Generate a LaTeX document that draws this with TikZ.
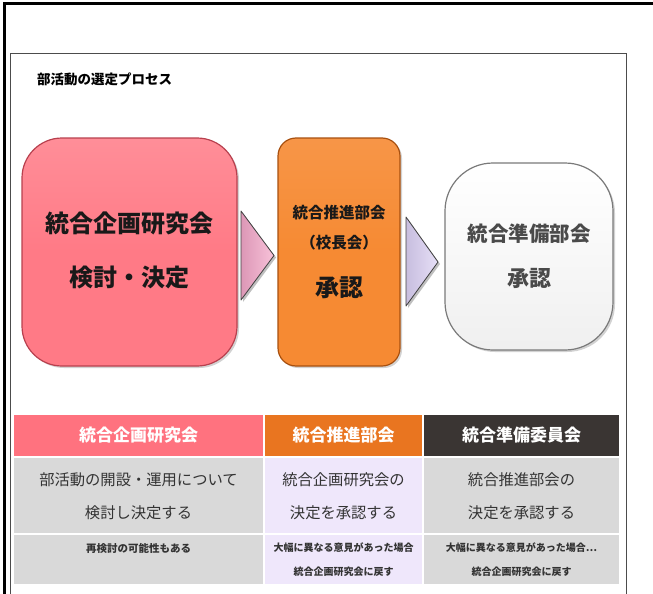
\documentclass[tikz,border=0pt]{standalone}
\usepackage{fontspec}
\setmainfont{Noto Sans CJK JP}
\usetikzlibrary{shadows}
\definecolor{pinkbox}{HTML}{FF7A86}
\definecolor{pinkedge}{HTML}{B8404E}
\definecolor{orangebox}{HTML}{F68A33}
\definecolor{orangeedge}{HTML}{A8500F}
\definecolor{whiteedge}{HTML}{7A7A7A}
\definecolor{hdpink}{HTML}{FF727F}
\definecolor{hdorange}{HTML}{E97520}
\definecolor{hddark}{HTML}{3A3533}
\definecolor{cellgray}{HTML}{D9D9D9}
\definecolor{celllav}{HTML}{EFE7FB}
\definecolor{txtdark}{HTML}{333333}
\definecolor{txtgray}{HTML}{4A4A4A}
\definecolor{arrpink}{HTML}{F5A8CA}
\definecolor{arrlav}{HTML}{D9CEF2}
\tikzset{
  procbox/.style={draw, line width=1.2pt, inner sep=0pt, outer sep=0pt,
    drop shadow={shadow xshift=2pt, shadow yshift=-2pt, fill=black!35}},
  cell/.style={draw=white, line width=1.5pt, inner sep=0pt, outer sep=0pt, anchor=north west},
  tri/.style={draw=black!75, line width=0.8pt, line join=round},
  boxtxt/.style={font=\bfseries, inner sep=0pt},
}
\begin{document}
\begin{tikzpicture}[x=1pt,y=-1pt]
\useasboundingbox (0,0) rectangle (653,594);
% outer frame
\draw[line width=3pt] (4,600) -- (4,4) -- (660,4);
% inner frame
\draw[black!70, line width=0.8pt] (10,600) -- (10,53) -- (626,53) -- (626,600);
% title
\node[boxtxt, font=\bfseries\fontsize{13.5}{15}\selectfont, anchor=west] (title) at (37,79) {部活動の選定プロセス};
% process boxes
\node[procbox, draw=pinkedge, top color=pinkbox!85!white, bottom color=pinkbox, middle color=pinkbox,
  rounded corners=40pt, minimum width=215pt, minimum height=228pt] (pk) at (129.5,252) {};
\node[procbox, draw=orangeedge, top color=orangebox!90!white, bottom color=orangebox, middle color=orangebox,
  rounded corners=18pt, minimum width=122pt, minimum height=228pt] (or) at (339,252) {};
\node[procbox, draw=whiteedge, top color=white, bottom color=black!6,
  rounded corners=48pt, minimum width=168pt, minimum height=187pt] (wh) at (529,256.5) {};
% box texts
\node[boxtxt, font=\bfseries\fontsize{24}{26}\selectfont, text=black!90] (pk1) at (129.5,223) {統合企画研究会};
\node[boxtxt, font=\bfseries\fontsize{24}{26}\selectfont, text=black!90] (pk2) at (129.5,277) {検討・決定};
\node[boxtxt, font=\bfseries\fontsize{15.5}{17}\selectfont, text=black!90] (or1) at (339,213) {統合推進部会};
\node[boxtxt, font=\bfseries\fontsize{15.5}{17}\selectfont, text=black!90] (or2) at (339,243) {（校長会）};
\node[boxtxt, font=\bfseries\fontsize{24}{26}\selectfont, text=black!90] (or3) at (339,288) {承認};
\node[boxtxt, font=\bfseries\fontsize{20.5}{22}\selectfont, text=txtgray] (wh1) at (529,234) {統合準備部会};
\node[boxtxt, font=\bfseries\fontsize{22}{24}\selectfont, text=txtgray] (wh2) at (529,278) {承認};
% triangle arrows
\coordinate (a1) at (241,211);
\coordinate (a1t) at (274,255.5);
\coordinate (a1b) at (241,300);
\fill[black!25] ([shift={(2,2)}]a1) -- ([shift={(2,2)}]a1t) -- ([shift={(2,2)}]a1b) -- cycle;
\draw[tri, left color=arrpink!90!black, right color=arrpink!70!white] (a1) -- (a1t) -- (a1b) -- cycle;
\coordinate (a2) at (406,217);
\coordinate (a2t) at (438,262);
\coordinate (a2b) at (406,306);
\fill[black!25] ([shift={(2,2)}]a2) -- ([shift={(2,2)}]a2t) -- ([shift={(2,2)}]a2b) -- cycle;
\draw[tri, left color=arrlav!92!black, right color=arrlav!65!white] (a2) -- (a2t) -- (a2b) -- cycle;
% table header
\node[cell, fill=hdpink, minimum width=251pt, minimum height=43pt] (h1) at (13,414) {};
\node[cell, fill=hdorange, minimum width=159pt, minimum height=43pt] (h2) at (264,414) {};
\node[cell, fill=hddark, minimum width=197pt, minimum height=43pt] (h3) at (423,414) {};
% row 2
\node[cell, fill=cellgray, minimum width=251pt, minimum height=77pt] (r21) at (13,457) {};
\node[cell, fill=celllav, minimum width=159pt, minimum height=77pt] (r22) at (264,457) {};
\node[cell, fill=cellgray, minimum width=197pt, minimum height=77pt] (r23) at (423,457) {};
% row 3
\node[cell, fill=cellgray, minimum width=251pt, minimum height=51pt] (r31) at (13,534) {};
\node[cell, fill=celllav, minimum width=159pt, minimum height=51pt] (r32) at (264,534) {};
\node[cell, fill=cellgray, minimum width=197pt, minimum height=51pt] (r33) at (423,534) {};
% header texts
\node[boxtxt, font=\bfseries\fontsize{17}{19}\selectfont, text=white] (ht1) at (h1.center) {統合企画研究会};
\node[boxtxt, font=\bfseries\fontsize{17}{19}\selectfont, text=white] (ht2) at (h2.center) {統合推進部会};
\node[boxtxt, font=\bfseries\fontsize{17}{19}\selectfont, text=white] (ht3) at (h3.center) {統合準備委員会};
% row 2 texts
\node[boxtxt, font=\fontsize{15.3}{17}\selectfont, text=txtdark] (t211) at (138.5,480) {部活動の開設・運用について};
\node[boxtxt, font=\fontsize{15.3}{17}\selectfont, text=txtdark] (t212) at (138.5,513) {検討し決定する};
\node[boxtxt, font=\fontsize{15.3}{17}\selectfont, text=txtdark] (t221) at (343.5,480) {統合企画研究会の};
\node[boxtxt, font=\fontsize{15.3}{17}\selectfont, text=txtdark] (t222) at (343.5,513) {決定を承認する};
\node[boxtxt, font=\fontsize{15.3}{17}\selectfont, text=txtdark] (t231) at (521.5,480) {統合推進部会の};
\node[boxtxt, font=\fontsize{15.3}{17}\selectfont, text=txtdark] (t232) at (521.5,513) {決定を承認する};
% row 3 texts
\node[boxtxt, font=\bfseries\fontsize{10.5}{12}\selectfont, text=txtdark] (t311) at (138.5,548) {再検討の可能性もある};
\node[boxtxt, font=\bfseries\fontsize{10}{12}\selectfont, text=txtdark] (t321) at (343.5,548) {大幅に異なる意見があった場合};
\node[boxtxt, font=\bfseries\fontsize{10}{12}\selectfont, text=txtdark] (t322) at (343.5,572) {統合企画研究会に戻す};
\node[boxtxt, font=\bfseries\fontsize{10}{12}\selectfont, text=txtdark] (t331) at (521.5,548) {大幅に異なる意見があった場合…};
\node[boxtxt, font=\bfseries\fontsize{10}{12}\selectfont, text=txtdark] (t332) at (521.5,572) {統合企画研究会に戻す};
\end{tikzpicture}
\end{document}
